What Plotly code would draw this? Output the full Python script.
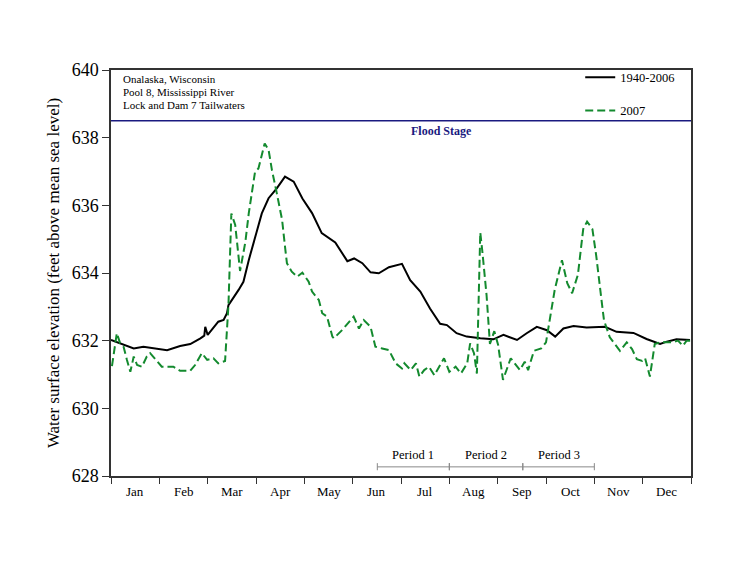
import plotly.graph_objects as go

# x positions in month units (0 = Jan 1, 12 = Dec 31)
months = ["Jan", "Feb", "Mar", "Apr", "May", "Jun", "Jul", "Aug", "Sep", "Oct", "Nov", "Dec"]

hist_x = [0.00, 0.19, 0.47, 0.67, 0.88, 1.16, 1.43, 1.64, 1.85, 1.93, 1.95, 2.00, 2.22, 2.33, 2.40,
          2.43, 2.64, 2.74, 2.85, 2.98, 3.12, 3.26, 3.43, 3.60, 3.78, 3.96, 4.16, 4.36, 4.64, 4.89,
          5.03, 5.20, 5.37, 5.54, 5.75, 6.02, 6.19, 6.40, 6.60, 6.81, 6.95, 7.15, 7.36, 7.64, 7.91,
          8.12, 8.40, 8.60, 8.81, 9.02, 9.19, 9.36, 9.57, 9.84, 10.22, 10.46, 10.81, 11.08, 11.25,
          11.36, 11.50, 11.70, 11.98]
hist_y = [632.02, 631.92, 631.77, 631.82, 631.77, 631.72, 631.84, 631.90, 632.07, 632.15, 632.41, 632.17,
          632.56, 632.61, 632.81, 633.05, 633.50, 633.74, 634.38, 635.07, 635.76, 636.21, 636.50, 636.85,
          636.70, 636.20, 635.77, 635.18, 634.90, 634.35, 634.43, 634.29, 634.02, 633.99, 634.17, 634.27,
          633.79, 633.45, 632.95, 632.50, 632.46, 632.22, 632.12, 632.07, 632.04, 632.17, 632.02, 632.22,
          632.41, 632.31, 632.12, 632.36, 632.43, 632.39, 632.41, 632.26, 632.23, 632.05, 631.95, 631.90,
          631.97, 632.04, 632.02]

y2007_x = [0.02, 0.12, 0.19, 0.26, 0.33, 0.40, 0.47, 0.54, 0.64, 0.74, 0.81, 0.92, 1.05, 1.29, 1.43,
           1.64, 1.74, 1.88, 1.99, 2.12, 2.22, 2.36, 2.43, 2.49, 2.57, 2.67, 2.78, 2.85, 2.98, 3.05,
           3.18, 3.26, 3.33, 3.43, 3.54, 3.60, 3.64, 3.74, 3.85, 3.96, 4.09, 4.16, 4.30, 4.37, 4.47,
           4.58, 4.61, 4.78, 5.02, 5.13, 5.23, 5.37, 5.47, 5.61, 5.75, 5.89, 6.02, 6.07, 6.20, 6.31,
           6.38, 6.48, 6.58, 6.69, 6.79, 6.89, 7.00, 7.13, 7.24, 7.37, 7.43, 7.51, 7.57, 7.64, 7.68,
           7.77, 7.84, 7.93, 8.01, 8.11, 8.27, 8.35, 8.46, 8.56, 8.63, 8.75, 8.90, 9.00, 9.08, 9.18,
           9.33, 9.44, 9.54, 9.66, 9.77, 9.85, 9.96, 10.04, 10.14, 10.20, 10.32, 10.45, 10.53, 10.67,
           10.78, 10.88, 10.99, 11.05, 11.15, 11.25, 11.36, 11.46, 11.62, 11.73, 11.83, 11.91, 11.99]
y2007_y = [631.25, 632.22, 631.92, 631.82, 631.43, 631.08, 631.53, 631.28, 631.23, 631.53, 631.63, 631.43,
           631.23, 631.23, 631.11, 631.11, 631.28, 631.63, 631.43, 631.48, 631.33, 631.40, 633.05, 635.76,
           635.42, 634.06, 634.92, 635.76, 636.99, 637.09, 637.83, 637.64, 637.04, 636.36, 635.57, 634.78,
           634.29, 634.04, 633.89, 634.01, 633.74, 633.45, 633.20, 632.81, 632.71, 632.12, 632.07, 632.31,
           632.71, 632.36, 632.61, 632.41, 631.82, 631.77, 631.72, 631.33, 631.18, 631.33, 631.13, 631.33,
           630.94, 631.13, 631.23, 630.98, 631.23, 631.48, 631.08, 631.23, 631.03, 631.33, 631.92, 631.63,
           631.03, 635.20, 634.68, 633.35, 631.90, 632.28, 631.87, 630.84, 631.48, 631.33, 631.13, 631.38,
           631.13, 631.70, 631.77, 631.95, 632.70, 633.50, 634.38, 633.70, 633.40, 633.95, 635.30, 635.52,
           635.30, 634.50, 633.30, 632.60, 632.10, 631.85, 631.70, 631.95, 631.75, 631.45, 631.40, 631.48,
           630.94, 631.90, 631.95, 631.95, 631.95, 632.00, 631.85, 632.00, 632.00]

flood_stage = 638.5
period_labels = ["Period 1", "Period 2", "Period 3"]
period_bounds = [(5.51, 7.0), (7.0, 8.52), (8.52, 10.0)]
site_lines = ["Onalaska, Wisconsin", "Pool 8, Mississippi River", "Lock and Dam 7 Tailwaters"]
y_ticks = [628, 630, 632, 634, 636, 638, 640]

FONT = "Times New Roman, Liberation Serif, serif"
NAVY = "#1a1a80"
GREEN = "#138a2e"

fig = go.Figure()
fig.add_trace(go.Scatter(x=hist_x, y=hist_y, mode="lines", name="1940-2006",
                         line=dict(color="black", width=2), legendgroup="a"))
fig.add_trace(go.Scatter(x=y2007_x, y=y2007_y, mode="lines", name="2007",
                         line=dict(color=GREEN, width=2, dash="8px,4px"), legendgroup="b"))

# flood stage
fig.add_shape(type="line", x0=0, x1=12, y0=flood_stage, y1=flood_stage,
              line=dict(color=NAVY, width=1.5), layer="below")
fig.add_annotation(x=6.83, y=638.2, text="<b>Flood Stage</b>", showarrow=False,
                   font=dict(family=FONT, size=12, color=NAVY))

# periods
for lab, (a, b) in zip(period_labels, period_bounds):
    fig.add_shape(type="line", x0=a, x1=b, y0=628.27, y1=628.27, line=dict(color="#888888", width=1))
    for xx in (a, b):
        fig.add_shape(type="line", x0=xx, x1=xx, y0=628.17, y1=628.38, line=dict(color="#888888", width=1))
    fig.add_annotation(x=(a + b) / 2, y=628.62, text=lab, showarrow=False,
                       font=dict(family=FONT, size=12.5, color="black"))

# site text
for i, t in enumerate(site_lines):
    fig.add_annotation(xref="paper", yref="paper", x=0.018, y=[0.978, 0.946, 0.915][i],
                       xanchor="left", yanchor="middle", text=t, showarrow=False,
                       font=dict(family=FONT, size=11, color="black"))

# month labels
for i, m in enumerate(months):
    fig.add_annotation(x=i + 0.5, xref="x", yref="paper", y=0, yanchor="top", yshift=-6,
                       text=m, showarrow=False, font=dict(family=FONT, size=13, color="black"))

fig.update_layout(
    width=732, height=564,
    margin=dict(l=103, r=49, t=62, b=96),
    paper_bgcolor="white", plot_bgcolor="white",
    font=dict(family=FONT, color="black"),
    showlegend=True,
    legend=dict(x=0.809, y=1.018, xanchor="left", yanchor="top", bgcolor="rgba(0,0,0,0)",
                font=dict(family=FONT, size=12.5), traceorder="grouped", tracegroupgap=14),
    xaxis=dict(range=[0, 12], tickvals=list(range(13)), ticktext=[""] * 13, ticks="outside",
               ticklen=6, tickcolor="#333", showline=True, linecolor="#333", linewidth=1.5,
               mirror=True, showgrid=False, zeroline=False),
    yaxis=dict(range=[628, 640], tickvals=y_ticks, ticks="outside", ticklen=7, tickcolor="#333",
               showline=True, linecolor="#333", linewidth=1.5, mirror=True, showgrid=False,
               zeroline=False, tickfont=dict(family=FONT, size=18),
               title=dict(text="Water surface elevation (feet above mean sea level)",
                          font=dict(family=FONT, size=17), standoff=8)),
)

fig.write_html("out.html")
